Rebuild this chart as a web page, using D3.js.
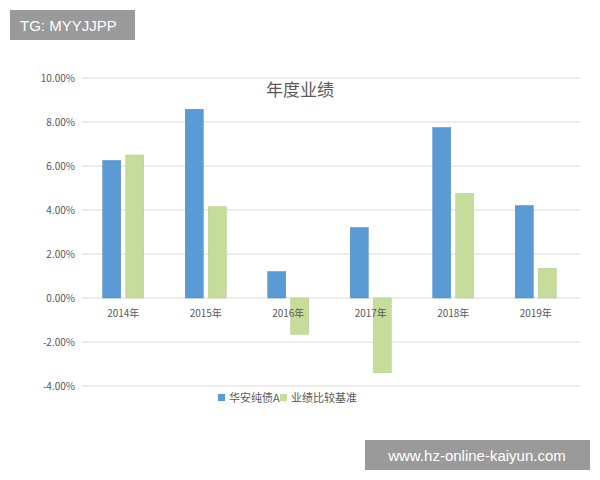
<!DOCTYPE html>
<html><head><meta charset="utf-8">
<script src="https://cdn.jsdelivr.net/npm/d3@7"></script>
<style>body{margin:0;background:#fff;font-family:"Noto Sans CJK SC","Noto Sans",sans-serif}</style>
</head><body><div id="chart"></div>
<script>
const years = ["2014年", "2015年", "2016年", "2017年", "2018年", "2019年"];
const seriesNames = ["华安纯债A", "业绩比较基准"];
const fundA = [6.25, 8.58, 1.2, 3.2, 7.75, 4.2];
const bench = [6.5, 4.15, -1.65, -3.4, 4.75, 1.35];
const yTicks = [-4, -2, 0, 2, 4, 6, 8, 10];
const colors = ["#5b9bd5", "#c5dc9a"];

const svg = d3.select("#chart").append("svg").attr("width", 600).attr("height", 480);

const x = d3.scaleBand().domain(years).range([82, 577]);
const y = d3.scaleLinear().domain([-4, 10]).range([386, 78]);

// grid
svg.append("g").selectAll("line").data(yTicks).join("line")
    .attr("x1", 82).attr("x2", 580)
    .attr("y1", d => y(d)).attr("y2", d => y(d))
    .attr("stroke", "#d9d9d9");

svg.append("g").selectAll("text").data(yTicks).join("text")
    .attr("x", 75).attr("y", d => y(d) + 3.5)
    .attr("text-anchor", "end").attr("font-size", 10).attr("fill", "#595959")
    .text(d => d.toFixed(2) + "%");

// bars
const barW = 18;
[fundA, bench].forEach((vals, s) => {
    svg.append("g").selectAll("rect").data(vals).join("rect")
        .attr("x", (d, i) => x(years[i]) + x.bandwidth() / 2 - barW - 2.5 + s * (barW + 5))
        .attr("y", d => y(Math.max(0, d)))
        .attr("width", barW)
        .attr("height", d => Math.abs(y(d) - y(0)))
        .attr("fill", colors[s])
        .attr("stroke", s ? "#b4cc84" : "#4a8ac8").attr("stroke-width", 0.5);
});

// x labels
svg.append("g").selectAll("text").data(years).join("text")
    .attr("x", d => x(d) + x.bandwidth() / 2).attr("y", y(0) + 19)
    .attr("text-anchor", "middle").attr("font-size", 10).attr("fill", "#595959")
    .text(d => d);

svg.append("text").attr("x", 300).attr("y", 96).attr("text-anchor", "middle")
    .attr("font-size", 17).attr("fill", "#595959").text("年度业绩");

// legend
const lg = svg.append("g").selectAll("g").data(seriesNames).join("g")
    .attr("transform", (d, i) => `translate(${218 + i * 62},398)`);
lg.append("rect").attr("y", -4).attr("width", 7).attr("height", 7).attr("fill", (d, i) => colors[i]);
lg.append("text").attr("x", 11).attr("y", 4).attr("font-size", 11).attr("fill", "#595959").text(d => d);

// watermarks
svg.append("rect").attr("x", 10).attr("y", 10).attr("width", 125).attr("height", 30).attr("fill", "#9a9a9a");
svg.append("text").attr("x", 20).attr("y", 31).attr("font-size", 15).attr("fill", "#fff")
    .attr("font-family", "Liberation Sans").text("TG: MYYJJPP");
svg.append("rect").attr("x", 365).attr("y", 440).attr("width", 225).attr("height", 30).attr("fill", "#9a9a9a");
svg.append("text").attr("x", 477).attr("y", 461).attr("text-anchor", "middle").attr("font-size", 15)
    .attr("fill", "#fff").attr("font-family", "Liberation Sans").text("www.hz-online-kaiyun.com");
</script></body></html>
